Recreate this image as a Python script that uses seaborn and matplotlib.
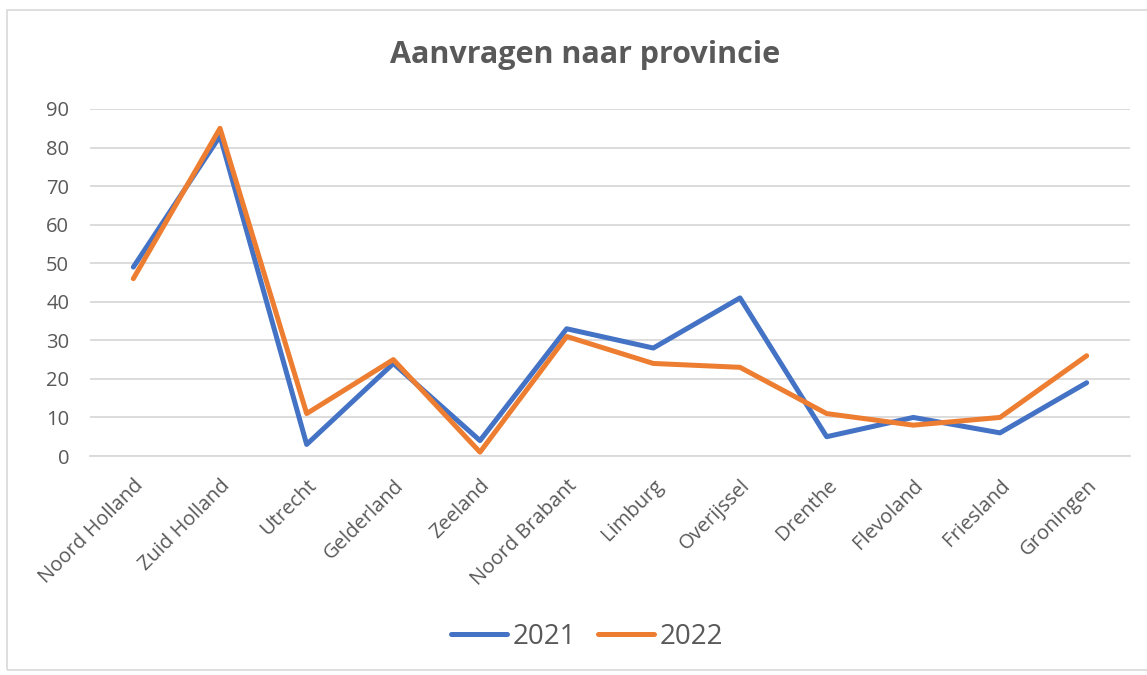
import matplotlib
matplotlib.use("Agg")
import matplotlib.pyplot as plt
import seaborn as sns
import pandas as pd
from matplotlib.patches import Rectangle

provinces = ["Noord Holland", "Zuid Holland", "Utrecht", "Gelderland", "Zeeland",
             "Noord Brabant", "Limburg", "Overijssel", "Drenthe", "Flevoland",
             "Friesland", "Groningen"]
values_2021 = [49, 83, 3, 24, 4, 33, 28, 41, 5, 10, 6, 19]
values_2022 = [46, 85, 11, 25, 1, 31, 24, 23, 11, 8, 10, 26]
series_names = ["2021", "2022"]
y_ticks = [0, 10, 20, 30, 40, 50, 60, 70, 80, 90]

df = pd.concat([
    pd.DataFrame({"Provincie": provinces, "Aantal": values_2021, "Jaar": series_names[0]}),
    pd.DataFrame({"Provincie": provinces, "Aantal": values_2022, "Jaar": series_names[1]}),
])

sns.set_theme(style="white")
plt.rcParams['font.family'] = ['Open Sans', 'DejaVu Sans']
text_color = "#595959"
grid_color = "#d9d9d9"

fig = plt.figure(figsize=(11.47, 6.75), dpi=100)
ax = fig.add_axes([90 / 1147, 1 - 456 / 675, (1130 - 90) / 1147, (456 - 109) / 675])

sns.lineplot(data=df, x="Provincie", y="Aantal", hue="Jaar", sort=False,
             palette={"2021": "#4472c4", "2022": "#ed7d31"},
             linewidth=3.6, ax=ax, legend=True)
for ln in ax.get_lines():
    ln.set_solid_capstyle("round")
    ln.set_solid_joinstyle("round")

ax.set_xlim(-0.5, len(provinces) - 0.5)
ax.set_ylim(0, 90)
ax.set_yticks(y_ticks)
ax.set_yticklabels([str(t) for t in y_ticks], fontsize=14.5, color=text_color)
ax.yaxis.grid(True, color=grid_color, linewidth=1.3)
ax.set_axisbelow(True)
ax.tick_params(axis="y", length=0, pad=15)

ax.set_xticks(range(len(provinces)))
ax.set_xticklabels(provinces, rotation=45, ha="right", rotation_mode="anchor",
                   fontsize=14.5, color=text_color)
ax.tick_params(axis="x", length=0, pad=14)
# category boundary ticks
ax.set_xticks([i - 0.5 for i in range(len(provinces) + 1)], minor=True)
ax.tick_params(axis="x", which="minor", length=6, width=1.3, color=grid_color, direction="out")

for s in ["top", "right", "left"]:
    ax.spines[s].set_visible(False)
ax.spines["bottom"].set_color(grid_color)
ax.spines["bottom"].set_linewidth(1.3)
ax.set_xlabel("")
ax.set_ylabel("")

fig.text(585 / 1147, 1 - 55 / 675, "Aanvragen naar provincie", ha="center", va="center",
         fontsize=22, fontweight="bold", color=text_color)

handles, labels = ax.get_legend_handles_labels()
ax.get_legend().remove()
leg = fig.legend(handles, labels, loc="center", bbox_to_anchor=(587 / 1147, 1 - 637 / 675),
                 ncol=2, frameon=False, fontsize=20, handlelength=2.0, columnspacing=0.8,
                 handletextpad=0.2, labelcolor=text_color)
for h in leg.get_lines():
    h.set_linewidth(3.6)
    h.set_solid_capstyle("round")

fig.patches.append(Rectangle((7 / 1147, 5 / 675), 1.2, 1 - 15 / 675, transform=fig.transFigure,
                             fill=False, edgecolor="#d9d9d9", linewidth=1.2))

fig.savefig("out.png", dpi=100)
